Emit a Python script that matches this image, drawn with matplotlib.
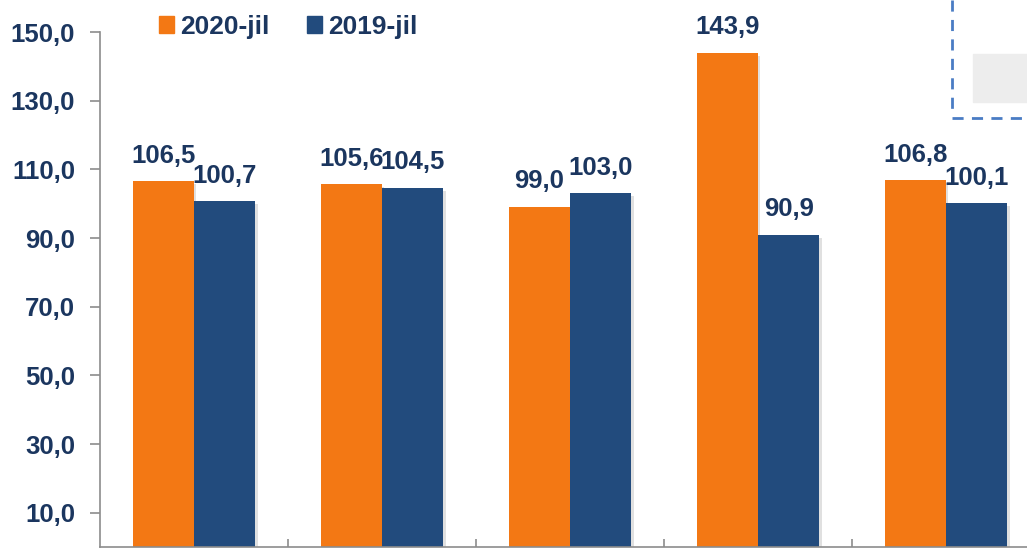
import matplotlib
matplotlib.use("Agg")
import matplotlib.pyplot as plt
import matplotlib.patches as mpatches
import numpy as np

plt.rcParams['font.family'] = ['Liberation Sans', 'DejaVu Sans']

groups = 5
vals_2020 = [106.5, 105.6, 99.0, 143.9, 106.8]
vals_2019 = [100.7, 104.5, 103.0, 90.9, 100.1]
series_names = ["2020-jil", "2019-jil"]
yticks = [10, 30, 50, 70, 90, 110, 130, 150]

orange = "#F37814"
blue = "#224B7D"
navy = "#1B365F"
grey = "#8C8C8C"

fig = plt.figure(figsize=(10.27, 5.57), dpi=100)
ax = fig.add_axes([100 / 1027, 10 / 557, 940 / 1027, 515 / 557])

x = np.arange(groups)
w = 0.327

def fmt(v):
    return f"{v:.1f}".replace(".", ",")

for xs, vals, col in [(x - w / 2, vals_2020, orange), (x + w / 2, vals_2019, blue)]:
    # soft shadow
    ax.bar(xs + 0.012, vals, w, bottom=-0.8, color="#000000", alpha=0.12, zorder=1)
    ax.bar(xs, vals, w, color=col, zorder=2)
    for xi, v in zip(xs, vals):
        ax.text(xi, v + 4, fmt(v), ha="center", va="bottom", fontsize=18.5,
                fontweight="bold", color=navy, clip_on=False, zorder=3)

ax.set_xlim(-0.5, groups - 0.5)
ax.set_ylim(0, 150)
ax.set_yticks(yticks)
ax.set_yticklabels([fmt(t) for t in yticks], fontsize=18.5, fontweight="bold", color=navy)
ax.tick_params(axis="y", direction="out", length=7, color=grey, width=1.2, pad=11)
ax.set_xticks(np.arange(groups) + 0.5)
ax.set_xticklabels([])
ax.tick_params(axis="x", direction="in", length=6, color=grey, width=1.2)

for s in ["top", "right"]:
    ax.spines[s].set_visible(False)
for s in ["left", "bottom"]:
    ax.spines[s].set_color(grey)
    ax.spines[s].set_linewidth(1.2)

handles = [mpatches.Patch(color=orange), mpatches.Patch(color=blue)]
leg = fig.legend(handles, series_names, loc="upper left", bbox_to_anchor=(135 / 1027, 1.016),
                 ncol=2, frameon=False, handlelength=0.57, handleheight=0.57,
                 handletextpad=0.25, columnspacing=1.4,
                 prop={"weight": "bold", "size": 19})
for t in leg.get_texts():
    t.set_color(navy)

# dashed box fragment at top right
fig.add_artist(plt.Line2D([952 / 1027, 952 / 1027], [1 - 0 / 557, 1 - 112 / 557],
                          color="#4A7CC4", lw=2, ls=(0, (4, 3))))
fig.add_artist(plt.Line2D([952 / 1027, 1.0], [1 - 118 / 557, 1 - 118 / 557],
                          color="#4A7CC4", lw=2, ls=(0, (4, 3))))
fig.add_artist(mpatches.Rectangle((973 / 1027, 1 - 102 / 557), 54 / 1027, 48 / 557,
                                  color="#EDEDED", transform=fig.transFigure))

fig.savefig("out.png", dpi=100)
